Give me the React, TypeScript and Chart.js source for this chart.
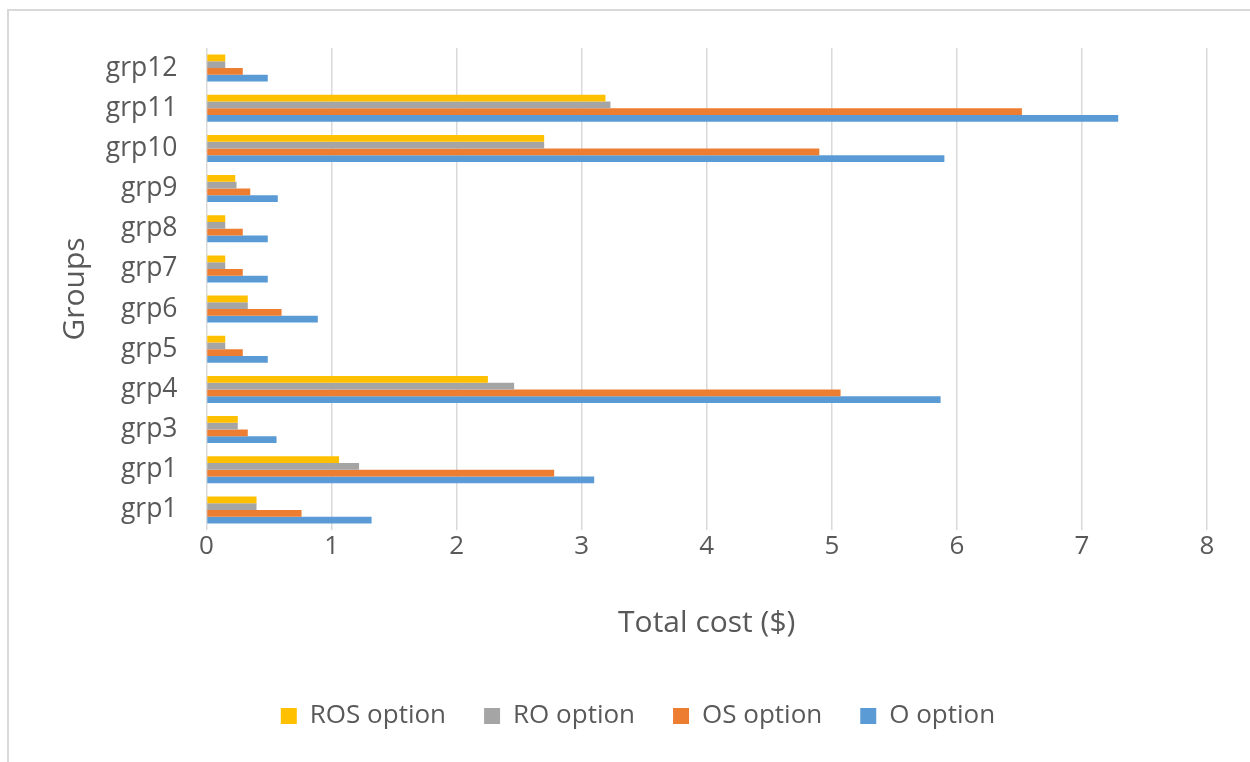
import React, { useEffect, useRef } from "react";
import { Chart, registerables } from "chart.js";

Chart.register(...registerables);

const categories = ["grp1", "grp1", "grp3", "grp4", "grp5", "grp6", "grp7", "grp8", "grp9", "grp10", "grp11", "grp12"];
const oOption = [1.32, 3.1, 0.56, 5.87, 0.49, 0.89, 0.49, 0.49, 0.57, 5.9, 7.29, 0.49];
const osOption = [0.76, 2.78, 0.33, 5.07, 0.29, 0.6, 0.29, 0.29, 0.35, 4.9, 6.52, 0.29];
const roOption = [0.4, 1.22, 0.25, 2.46, 0.15, 0.33, 0.15, 0.15, 0.24, 2.7, 3.23, 0.15];
const rosOption = [0.4, 1.06, 0.25, 2.25, 0.15, 0.33, 0.15, 0.15, 0.23, 2.7, 3.19, 0.15];
const xTickValues = [0, 1, 2, 3, 4, 5, 6, 7, 8];

const FONT = "'Open Sans', sans-serif";
const TEXT = "#595959";
const GRID = "#d9d9d9";

export default function App() {
  const ref = useRef<HTMLCanvasElement>(null);

  useEffect(() => {
    if (!ref.current) return;
    const chart = new Chart(ref.current, {
      type: "bar",
      data: {
        labels: categories,
        datasets: [
          { label: "ROS option", data: rosOption, backgroundColor: "#FFC000", borderWidth: 0 },
          { label: "RO option", data: roOption, backgroundColor: "#A5A5A5", borderWidth: 0 },
          { label: "OS option", data: osOption, backgroundColor: "#ED7D31", borderWidth: 0 },
          { label: "O option", data: oOption, backgroundColor: "#5B9BD5", borderWidth: 0 },
        ],
      },
      options: {
        indexAxis: "y",
        responsive: false,
        animation: false,
        devicePixelRatio: 1,
        layout: { padding: { top: 37, left: 0, right: 0, bottom: 23 } },
        datasets: { bar: { categoryPercentage: 0.672, barPercentage: 1 } },
        plugins: {
          tooltip: { enabled: false },
          legend: {
            position: "bottom",
            labels: {
              font: { family: FONT, size: 26 },
              color: TEXT,
              boxWidth: 16,
              boxHeight: 16,
              padding: 38,
            },
          },
        },
        scales: {
          x: {
            min: 0,
            max: 8,
            afterBuildTicks: (s: any) => {
              s.ticks = xTickValues.map((v) => ({ value: v }));
            },
            ticks: { font: { family: FONT, size: 26 }, color: TEXT, padding: 1 },
            grid: { color: GRID, lineWidth: 1.5, drawTicks: false },
            border: { display: false },
            title: {
              display: true,
              text: "Total cost ($)",
              font: { family: FONT, size: 30 },
              color: TEXT,
              padding: { top: 0, bottom: 24 },
            },
            afterFit: (s: any) => {
              s.height = 135;
            },
          },
          y: {
            reverse: true,
            ticks: { font: { family: FONT, size: 26.5 }, color: TEXT, padding: 0 },
            grid: {
              display: true,
              drawOnChartArea: false,
              drawTicks: true,
              tickLength: 29,
              tickColor: "rgba(0,0,0,0)",
              color: "rgba(0,0,0,0)",
            },
            border: { display: false },
            title: {
              display: true,
              text: "Groups",
              font: { family: FONT, size: 30 },
              color: TEXT,
              padding: { top: 48, bottom: 0 },
            },
            afterFit: (s: any) => {
              s.width = 197.5;
            },
          },
          yPad: {
            type: "category",
            position: "right",
            ticks: { display: false },
            grid: { display: false, drawTicks: false },
            border: { display: false },
            afterFit: (s: any) => {
              s.width = 60;
            },
          },
        },
      },
    } as any);
    return () => chart.destroy();
  }, []);

  return (
    <div
      style={{
        position: "fixed",
        left: 7,
        top: 9,
        width: 1258,
        height: 751,
        borderTop: "2px solid #d9d9d9",
        borderLeft: "2px solid #d9d9d9",
        background: "#fff",
      }}
    >
      <canvas ref={ref} width={1258} height={751} style={{ display: "block", width: 1258, height: 751 }} />
    </div>
  );
}
